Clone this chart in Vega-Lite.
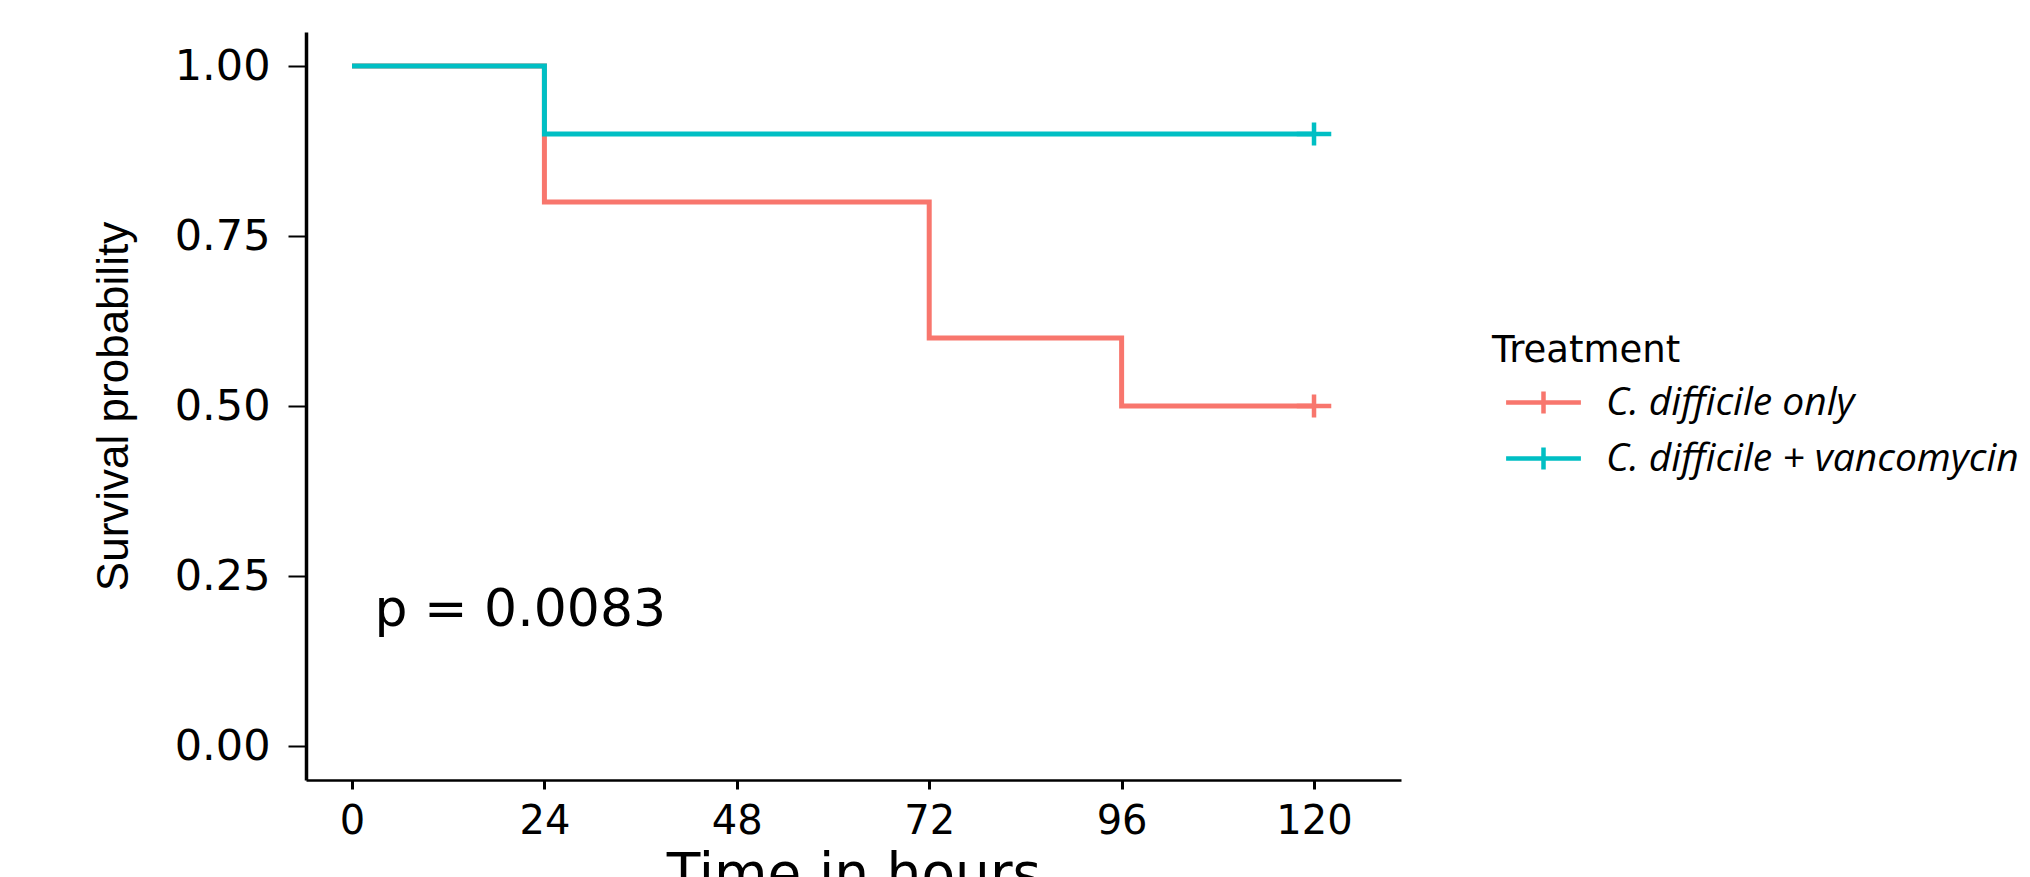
{
  "$schema": "https://vega.github.io/schema/vega-lite/v6.json",
  "width": 1095,
  "height": 748,
  "autosize": {"type": "none"},
  "padding": {"left": 306, "top": 32, "right": 629, "bottom": 97},
  "background": "white",
  "config": {"view": {"stroke": null}, "axis": {"grid": false}},
  "data": {
    "values": [
      {"treatment": "C. difficile only", "time": 0, "surv": 1.0},
      {"treatment": "C. difficile only", "time": 24, "surv": 0.8},
      {"treatment": "C. difficile only", "time": 72, "surv": 0.6},
      {"treatment": "C. difficile only", "time": 96, "surv": 0.5},
      {"treatment": "C. difficile only", "time": 120, "surv": 0.5},
      {"treatment": "C. difficile + vancomycin", "time": 0, "surv": 1.0},
      {"treatment": "C. difficile + vancomycin", "time": 24, "surv": 0.9},
      {"treatment": "C. difficile + vancomycin", "time": 120, "surv": 0.9}
    ]
  },
  "layer": [
    {
      "mark": {"type": "line", "interpolate": "step-after", "strokeWidth": 5},
      "encoding": {
        "x": {
          "field": "time", "type": "quantitative",
          "scale": {"domain": [-5.74, 130.85], "nice": false, "zero": false},
          "axis": {
            "values": [0, 24, 48, 72, 96, 120],
            "title": "Time in hours",
            "labelFont": "DejaVu Sans", "labelFontSize": 40, "labelColor": "black",
            "labelPadding": 12, "labelFlush": false,
            "tickSize": 9, "tickWidth": 3, "tickColor": "black",
            "domainColor": "black", "domainWidth": 2.7,
            "titleFont": "DejaVu Sans", "titleFontSize": 55, "titleFontWeight": "normal",
            "titleColor": "black", "titlePadding": 7
          }
        },
        "y": {
          "field": "surv", "type": "quantitative",
          "scale": {"domain": [-0.05, 1.05], "nice": false, "zero": false},
          "axis": {
            "values": [0, 0.25, 0.5, 0.75, 1.0],
            "format": ".2f",
            "title": "Survival probability",
            "labelFont": "DejaVu Sans", "labelFontSize": 43, "labelColor": "black",
            "labelPadding": 18, "labelFlush": false,
            "tickSize": 18, "tickWidth": 2, "tickColor": "black",
            "domainColor": "black", "domainWidth": 3.5,
            "titleFont": "Liberation Sans",
            "titleFontSize": 44, "titleFontWeight": "normal",
            "titleColor": "black", "titlePadding": 38
          }
        },
        "color": {
          "field": "treatment", "type": "nominal",
          "scale": {
            "domain": ["C. difficile only", "C. difficile + vancomycin"],
            "range": ["#F8766D", "#00BFC4"]
          },
          "legend": {
            "orient": "none", "legendX": 1186, "legendY": 301,
            "title": "Treatment",
            "titleFont": "DejaVu Sans", "titleFontSize": 37, "titleFontWeight": "normal",
            "titleColor": "black", "titlePadding": 13, "titleLimit": 1000,
            "labelFont": "Open Sans", "labelFontSize": 39, "labelFontStyle": "italic",
            "labelColor": "black", "labelLimit": 0, "labelBaseline": "middle",
            "symbolType": "M-3.4,0H3.4M0,-1V1",
            "symbolSize": 484, "symbolStrokeWidth": 4.5,
            "symbolOffset": 32, "labelOffset": 43,
            "rowPadding": 15, "padding": 0
          }
        }
      }
    },
    {
      "transform": [{"filter": "datum.time == 120"}],
      "mark": {"type": "point", "shape": "M-1.5,0H1.5M0,-1V1", "size": 529, "strokeWidth": 4.5, "filled": false, "opacity": 1},
      "encoding": {
        "x": {"field": "time", "type": "quantitative"},
        "y": {"field": "surv", "type": "quantitative"},
        "color": {"field": "treatment", "type": "nominal"}
      }
    },
    {
      "data": {"values": [{"label": "p = 0.0083"}]},
      "mark": {"type": "text", "align": "left", "baseline": "alphabetic", "font": "DejaVu Sans", "fontSize": 52, "color": "black"},
      "encoding": {
        "x": {"datum": 2.8},
        "y": {"datum": 0.176},
        "text": {"field": "label"}
      }
    }
  ]
}
